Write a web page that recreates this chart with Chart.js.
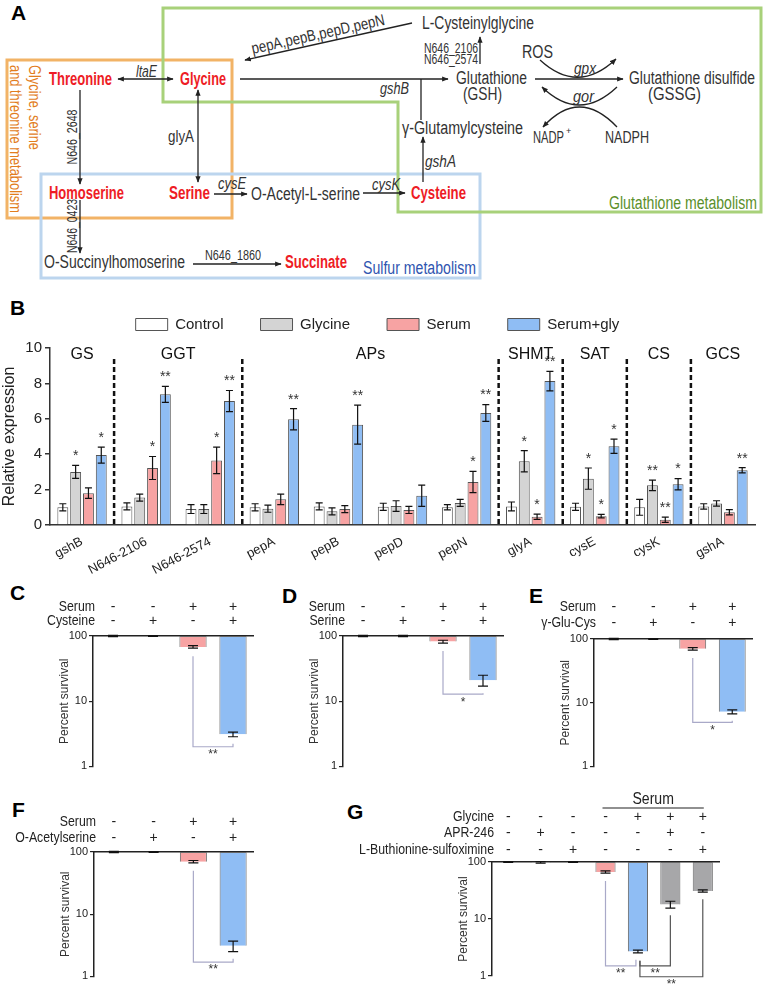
<!DOCTYPE html>
<html><head><meta charset="utf-8">
<script src="https://cdn.jsdelivr.net/npm/chart.js@4.4.1/dist/chart.umd.min.js"></script>
<style>
html,body{margin:0;padding:0;background:#fff;}
body{width:764px;height:987px;position:relative;overflow:hidden;font-family:'Liberation Sans',Arial,sans-serif;}
.cv{position:absolute;}
.letter{position:absolute;font-weight:bold;font-size:21px;line-height:1;color:#000;font-family:'Liberation Sans',Arial,sans-serif;}
</style></head><body>

<svg width="764" height="290" style="position:absolute;left:0;top:0" font-family="'Liberation Sans Narrow','Arial Narrow','Liberation Sans',Arial,sans-serif">
<defs><marker id="ah" viewBox="0 0 10 10" refX="9" refY="5" markerWidth="5" markerHeight="5" orient="auto-start-reverse"><path d="M0,1 L10,5 L0,9 z" fill="#222"/></marker></defs>
<rect x="7" y="60" width="225" height="158" fill="none" stroke="#f2b366" stroke-width="3"/>
<rect x="41" y="174" width="439" height="104" fill="none" stroke="#bcd5ee" stroke-width="3"/>
<polygon points="163,8 761,8 761,212 398,212 398,102 163,102" fill="none" stroke="#a8d17a" stroke-width="3"/>
<g stroke="#222" stroke-width="1.3" fill="none">
<line x1="118" y1="79" x2="173" y2="79" marker-start="url(#ah)" marker-end="url(#ah)"/>
<line x1="240" y1="79" x2="448" y2="79" marker-end="url(#ah)"/>
<line x1="421" y1="120" x2="421" y2="79"/>
<line x1="412" y1="23" x2="245" y2="60" marker-end="url(#ah)"/>
<line x1="480" y1="64" x2="480" y2="37" marker-end="url(#ah)"/>
<line x1="535" y1="79" x2="623" y2="79" marker-end="url(#ah)"/>
<path d="M540,60 Q578,95 616,59" marker-end="url(#ah)"/>
<path d="M617,87 Q579,123 542,87" marker-end="url(#ah)"/>
<path d="M617,127 Q579,87 543,127" marker-end="url(#ah)"/>
<line x1="423" y1="182" x2="423" y2="137" marker-end="url(#ah)"/>
<line x1="198" y1="90" x2="198" y2="182" marker-start="url(#ah)" marker-end="url(#ah)"/>
<line x1="80" y1="90" x2="80" y2="184" marker-end="url(#ah)"/>
<line x1="214" y1="194" x2="247" y2="194" marker-end="url(#ah)"/>
<line x1="363" y1="193" x2="405" y2="193" marker-end="url(#ah)"/>
<line x1="80" y1="200" x2="80" y2="253" marker-end="url(#ah)"/>
<line x1="193" y1="264" x2="281" y2="264" marker-end="url(#ah)"/>
</g>
<g font-size="18" fill="#333" dominant-baseline="central">
<text x="422" y="23" textLength="112" lengthAdjust="spacingAndGlyphs">L-Cysteinylglycine</text>
<text x="522" y="52" textLength="31" lengthAdjust="spacingAndGlyphs">ROS</text>
<text x="456" y="78" textLength="71" lengthAdjust="spacingAndGlyphs">Glutathione</text>
<text x="463" y="94" textLength="39" lengthAdjust="spacingAndGlyphs">(GSH)</text>
<text x="629" y="78" textLength="126" lengthAdjust="spacingAndGlyphs">Glutathione disulfide</text>
<text x="648" y="94" textLength="53" lengthAdjust="spacingAndGlyphs">(GSSG)</text>
<text x="402" y="128" textLength="121" lengthAdjust="spacingAndGlyphs">γ-Glutamylcysteine</text>
<text x="533" y="137" font-size="16" textLength="31" lengthAdjust="spacingAndGlyphs">NADP</text>
<text x="566" y="131" font-size="9" fill="#333">+</text>
<text x="605" y="137" font-size="16" textLength="44" lengthAdjust="spacingAndGlyphs">NADPH</text>
<text x="251" y="194" textLength="109" lengthAdjust="spacingAndGlyphs">O-Acetyl-L-serine</text>
<text x="44" y="262" textLength="141" lengthAdjust="spacingAndGlyphs">O-Succinylhomoserine</text>
<text x="168" y="136" font-size="16" textLength="26" lengthAdjust="spacingAndGlyphs">glyA</text>
</g>
<g font-size="16" fill="#333" font-style="italic" dominant-baseline="central">
<text x="136" y="71" textLength="21" lengthAdjust="spacingAndGlyphs">ltaE</text>
<text x="380" y="88" textLength="29" lengthAdjust="spacingAndGlyphs">gshB</text>
<text x="425" y="161" textLength="31" lengthAdjust="spacingAndGlyphs">gshA</text>
<text x="218" y="183" textLength="28" lengthAdjust="spacingAndGlyphs">cysE</text>
<text x="372" y="184" textLength="28" lengthAdjust="spacingAndGlyphs">cysK</text>
<text x="574" y="68" textLength="22" lengthAdjust="spacingAndGlyphs">gpx</text>
<text x="573" y="96" textLength="21" lengthAdjust="spacingAndGlyphs">gor</text>
<text transform="translate(318,34) rotate(-12.5)" font-style="normal" text-anchor="middle" textLength="136" lengthAdjust="spacingAndGlyphs">pepA,pepB,pepD,pepN</text>
</g>
<g font-size="14" fill="#333" dominant-baseline="central">
<text x="424" y="48" textLength="54" lengthAdjust="spacingAndGlyphs">N646_2106</text>
<text x="424" y="59" textLength="54" lengthAdjust="spacingAndGlyphs">N646_2574</text>
<text x="205" y="255" textLength="56" lengthAdjust="spacingAndGlyphs">N646_1860</text>
<text transform="translate(72,137) rotate(-90)" text-anchor="middle" textLength="55" lengthAdjust="spacingAndGlyphs">N646_2648</text>
<text transform="translate(72,226) rotate(-90)" text-anchor="middle" textLength="54" lengthAdjust="spacingAndGlyphs">N646_0423</text>
</g>
<g font-size="18" fill="#ee1c25" font-weight="bold" dominant-baseline="central">
<text x="49" y="79" textLength="63" lengthAdjust="spacingAndGlyphs">Threonine</text>
<text x="180" y="79" textLength="46" lengthAdjust="spacingAndGlyphs">Glycine</text>
<text x="49" y="193" textLength="75" lengthAdjust="spacingAndGlyphs">Homoserine</text>
<text x="169" y="193" textLength="41" lengthAdjust="spacingAndGlyphs">Serine</text>
<text x="411" y="193" textLength="55" lengthAdjust="spacingAndGlyphs">Cysteine</text>
<text x="285" y="262" textLength="62" lengthAdjust="spacingAndGlyphs">Succinate</text>
</g>
<g font-size="18" dominant-baseline="central">
<text x="609" y="203" fill="#5b8f2b" textLength="148" lengthAdjust="spacingAndGlyphs">Glutathione metabolism</text>
<text x="363" y="268" fill="#2f55b0" textLength="113" lengthAdjust="spacingAndGlyphs">Sulfur metabolism</text>
<text transform="translate(34,65) rotate(90)" fill="#e27d1e" font-size="17" textLength="85" lengthAdjust="spacingAndGlyphs">Glycine, serine</text>
<text transform="translate(15,65) rotate(90)" fill="#e27d1e" font-size="17" textLength="148" lengthAdjust="spacingAndGlyphs">and threonine metabolism</text>
</g>
</svg>

<div class="letter" style="left:11px;top:2px">A</div>
<div class="letter" style="left:10px;top:297px">B</div>
<div class="letter" style="left:10px;top:582px">C</div>
<div class="letter" style="left:282px;top:585px">D</div>
<div class="letter" style="left:529px;top:585px">E</div>
<div class="letter" style="left:12px;top:799px">F</div>
<div class="letter" style="left:347px;top:801px">G</div>

<canvas id="chartB" class="cv" width="764" height="302" style="left:0;top:280px"></canvas>
<canvas id="chartC" class="cv" width="262" height="205" style="left:0;top:570px"></canvas>
<canvas id="chartD" class="cv" width="262" height="205" style="left:250px;top:570px"></canvas>
<canvas id="chartE" class="cv" width="262" height="205" style="left:500px;top:570px"></canvas>
<canvas id="chartF" class="cv" width="262" height="200" style="left:0;top:785px"></canvas>
<canvas id="chartG" class="cv" width="514" height="200" style="left:250px;top:785px"></canvas>

<script>
// ---------------- Panel B data ----------------
const geneLabels = ['gshB','N646-2106','N646-2574','pepA','pepB','pepD','pepN','glyA','cysE','cysK','gshA'];
const seriesNames = ['Control','Glycine','Serum','Serum+gly'];
const controlMean  = [1.0, 1.05, 0.9, 1.0, 1.05, 1.03, 1.0, 1.05, 1.03, 1.0, 1.05];
const glycineMean  = [3.0, 1.55, 0.9, 0.92, 0.77, 1.07, 1.25, 3.6, 2.62, 2.24, 1.22];
const serumMean    = [1.8, 3.22, 3.65, 1.45, 0.9, 0.85, 2.43, 0.47, 0.5, 0.3, 0.72];
const serumGlyMean = [3.95, 7.38, 7.0, 5.97, 5.67, 1.65, 6.33, 8.13, 4.45, 2.3, 3.09];
const controlSD  = [0.2, 0.2, 0.25, 0.2, 0.2, 0.2, 0.15, 0.25, 0.2, 0.45, 0.15];
const glycineSD  = [0.37, 0.2, 0.25, 0.2, 0.2, 0.3, 0.2, 0.6, 0.6, 0.3, 0.15];
const serumSD    = [0.3, 0.65, 0.75, 0.3, 0.2, 0.2, 0.6, 0.15, 0.1, 0.15, 0.15];
const serumGlySD = [0.45, 0.45, 0.6, 0.6, 1.1, 0.6, 0.47, 0.55, 0.4, 0.32, 0.15];
const controlStars  = ['','','','','','','','','','',''];
const glycineStars  = ['*','','','','','','','*','*','**',''];
const serumStars    = ['','*','*','','','','*','*','*','**',''];
const serumGlyStars = ['*','**','**','**','**','','**','**','*','*','**'];
const groupNames = ['GS','GGT','APs','SHMT','SAT','CS','GCS'];
const groupFirst = [0, 1, 3, 7, 8, 9, 10];
const groupLast  = [0, 2, 6, 7, 8, 9, 10];

// ---------------- Panels C-G data ----------------
const cSerum = ['-','-','+','+'];
const cCysteine = ['-','+','-','+'];
const cSurvival = [100, 100, 68, 3.1];
const cSD = [2, 1.5, 3, 0.25];

const dSerum = ['-','-','+','+'];
const dSerine = ['-','+','-','+'];
const dSurvival = [100, 100, 82, 21];
const dSD = [2, 2, 4, 4];

const eSerum = ['-','-','+','+'];
const eGluCys = ['-','+','-','+'];
const eSurvival = [100, 100, 70, 7.2];
const eSD = [2, 1.5, 3, 0.5];

const fSerum = ['-','-','+','+'];
const fAcetylserine = ['-','+','-','+'];
const fSurvival = [100, 100, 70, 3.1];
const fSD = [2, 1.5, 3, 0.6];

const gGlycine = ['-','-','-','-','+','+','+'];
const gAPR = ['-','+','-','-','-','+','-'];
const gBSO = ['-','-','+','-','-','-','+'];
const gSurvival = [100, 98, 100, 67, 2.7, 18, 31];
const gSD = [1.5, 3, 1.5, 3, 0.15, 2.5, 1.5];

// ---------------- Styling ----------------
const FONT = "'Liberation Sans', Arial, sans-serif";
const NARROW = "'Liberation Sans Narrow', 'Arial Narrow', 'Liberation Sans', Arial, sans-serif";
Chart.defaults.font.family = FONT;
Chart.defaults.color = '#222';
Chart.defaults.animation = false;
const WHITE = '#ffffff', LGRAY = '#d4d4d4', PINK = '#f7a3a3', BLUE = '#8fbdf4', DGRAY = '#a7a7a9';

// ---------------- Panel B ----------------
const bMeans = [controlMean, glycineMean, serumMean, serumGlyMean];
const bSDs = [controlSD, glycineSD, serumSD, serumGlySD];
const bStars = [controlStars, glycineStars, serumStars, serumGlyStars];
const bColors = [WHITE, LGRAY, PINK, BLUE];

const bExtras = {
  id: 'bExtras',
  afterDatasetsDraw(chart) {
    const {ctx, chartArea: a, scales: {x, y}} = chart;
    ctx.save();
    bMeans.forEach((means, di) => {
      const meta = chart.getDatasetMeta(di);
      meta.data.forEach((bar, i) => {
        const m = means[i], s = bSDs[di][i];
        const yt = y.getPixelForValue(m + s), yb = y.getPixelForValue(Math.max(0, m - s));
        ctx.strokeStyle = '#111'; ctx.lineWidth = 1.2;
        ctx.beginPath();
        ctx.moveTo(bar.x, yt); ctx.lineTo(bar.x, yb);
        ctx.moveTo(bar.x - 3.5, yt); ctx.lineTo(bar.x + 3.5, yt);
        ctx.moveTo(bar.x - 3.5, yb); ctx.lineTo(bar.x + 3.5, yb);
        ctx.stroke();
        const st = bStars[di][i];
        if (st) {
          ctx.fillStyle = '#333'; ctx.font = '14px ' + FONT;
          ctx.textAlign = 'center'; ctx.textBaseline = 'middle';
          ctx.fillText(st, bar.x, yt - 9);
        }
      });
    });
    ctx.strokeStyle = '#111'; ctx.lineWidth = 2.5; ctx.setLineDash([5, 3]);
    groupLast.slice(0, -1).forEach(li => {
      const xp = (x.getPixelForValue(li) + x.getPixelForValue(li + 1)) / 2;
      ctx.beginPath(); ctx.moveTo(xp, a.top + 11); ctx.lineTo(xp, a.bottom); ctx.stroke();
    });
    ctx.setLineDash([]);
    ctx.fillStyle = '#111'; ctx.font = '16px ' + FONT; ctx.textAlign = 'center'; ctx.textBaseline = 'middle';
    groupNames.forEach((g, k) => {
      const xp = (x.getPixelForValue(groupFirst[k]) + x.getPixelForValue(groupLast[k])) / 2;
      ctx.fillText(g, xp, a.top + 7);
    });
    ctx.restore();
  }
};

new Chart(document.getElementById('chartB'), {
  type: 'bar',
  data: {
    labels: geneLabels,
    datasets: bMeans.map((m, i) => ({
      label: seriesNames[i], data: m, backgroundColor: bColors[i],
      borderColor: '#555', borderWidth: 1,
      categoryPercentage: 0.8, barPercentage: 0.85
    }))
  },
  options: {
    responsive: false, animation: false,
    layout: {padding: {left: 0, right: 9, top: 0, bottom: 0}},
    plugins: {
      legend: {display: true, position: 'top',
        labels: {boxWidth: 32, boxHeight: 12, padding: 37, color: '#222', font: {size: 15, family: FONT}}},
      title: {display: true, text: ' ', weight: 500, padding: {top: 0, bottom: 0}, font: {size: 5}},
      tooltip: {enabled: false}
    },
    scales: {
      x: {
        grid: {display: false, drawTicks: false},
        border: {color: '#333', width: 1.5},
        ticks: {minRotation: 28, maxRotation: 28, autoSkip: false, padding: 9, color: '#222', font: {size: 13, family: FONT}},
        afterFit(s) { s.height = 57; }
      },
      y: {
        min: 0, max: 10,
        ticks: {stepSize: 2, color: '#222', font: {size: 15, family: FONT}, padding: 3},
        grid: {drawOnChartArea: false, tickLength: 5, color: '#333', lineWidth: 1.5},
        border: {color: '#333', width: 1.5},
        title: {display: true, text: 'Relative expression', color: '#222', font: {size: 16, family: FONT}, padding: {top: 0, bottom: 2}},
        afterFit(s) { s.width = 50; }
      }
    }
  },
  plugins: [bExtras]
});

// ---------------- Panels C-G ----------------
function survivalChart(id, rowNames, rowSigns, values, sds, colors, brackets, lay, header) {
  const labels = values.map((_, i) => rowSigns.map(r => r[i]));
  const extras = {
    id: 'surv_' + id,
    afterDatasetsDraw(chart) {
      const {ctx, chartArea: a, scales: {x, y}} = chart;
      const meta = chart.getDatasetMeta(0);
      ctx.save();
      ctx.strokeStyle = '#111'; ctx.lineWidth = 1.2;
      meta.data.forEach((bar, i) => {
        const v = values[i], s = sds[i];
        const yt = y.getPixelForValue(v + s), yb = y.getPixelForValue(v - s);
        ctx.beginPath();
        ctx.moveTo(bar.x, yt); ctx.lineTo(bar.x, yb);
        ctx.moveTo(bar.x - 5, yt); ctx.lineTo(bar.x + 5, yt);
        ctx.moveTo(bar.x - 5, yb); ctx.lineTo(bar.x + 5, yb);
        ctx.stroke();
      });
      // row names (condensed like the original narrow typeface)
      ctx.fillStyle = '#222'; ctx.font = '14px ' + FONT;
      ctx.textAlign = 'right'; ctx.textBaseline = 'middle';
      rowNames.forEach((nm, j) => {
        const yy = a.top - lay.pad - (rowNames.length - j - 0.5) * lay.lh;
        ctx.save(); ctx.translate(a.left + 2, yy); ctx.scale(0.88, 1);
        ctx.fillText(nm, 0, 0); ctx.restore();
      });
      brackets.forEach(b => {
        const x1 = x.getPixelForValue(b.from) + (b.dx1 || 0), x2 = x.getPixelForValue(b.to) + (b.dx2 || 0);
        const y1 = y.getPixelForValue(values[b.from] - sds[b.from]) + 8;
        const y2 = y.getPixelForValue(values[b.to] - sds[b.to]) + 7;
        const yl = y.getPixelForValue(b.at);
        ctx.strokeStyle = b.color; ctx.lineWidth = 1.2;
        ctx.beginPath(); ctx.moveTo(x1, y1); ctx.lineTo(x1, yl); ctx.lineTo(x2, yl); ctx.lineTo(x2, y2); ctx.stroke();
        ctx.fillStyle = '#333'; ctx.font = '12px ' + FONT; ctx.textAlign = 'center'; ctx.textBaseline = 'middle';
        ctx.fillText(b.label, (x1 + x2) / 2, yl + 8);
      });
      if (header) {
        const xa = x.getPixelForValue(header.from) - 3, xb = x.getPixelForValue(header.to) + 1;
        ctx.strokeStyle = '#222'; ctx.lineWidth = 1.2;
        ctx.beginPath(); ctx.moveTo(xa, a.top - header.lineOff); ctx.lineTo(xb, a.top - header.lineOff); ctx.stroke();
        ctx.fillStyle = '#222'; ctx.font = '16px ' + FONT; ctx.textAlign = 'center'; ctx.textBaseline = 'middle';
        ctx.save(); ctx.translate((xa + xb) / 2, a.top - header.lineOff - 8); ctx.scale(0.88, 1);
        ctx.fillText(header.text, 0, 0); ctx.restore();
      }
      ctx.restore();
    }
  };
  return new Chart(document.getElementById(id), {
    type: 'bar',
    data: {
      labels: labels,
      datasets: [{
        data: values.map(v => [v, 100]),
        backgroundColor: colors, borderColor: '#666', borderWidth: 1,
        categoryPercentage: 1, barPercentage: lay.barPct
      }]
    },
    options: {
      responsive: false, animation: false,
      layout: {padding: {left: lay.padL, right: lay.padR, top: 0, bottom: lay.padB}},
      plugins: {legend: {display: false}, tooltip: {enabled: false}},
      scales: {
        x: {
          type: 'category', position: 'top', offset: true,
          grid: {display: false, drawTicks: false},
          border: {display: true, color: '#222', width: 1.5},
          ticks: {autoSkip: false, maxRotation: 0, padding: lay.pad, color: '#222',
                  font: {size: 14, family: NARROW, lineHeight: lay.lh / 14}},
          afterFit(s) { s.height = lay.xH; }
        },
        y: {
          type: 'logarithmic', min: 1, max: 100,
          afterBuildTicks(s) { s.ticks = [{value: 1}, {value: 10}, {value: 100}]; },
          ticks: {color: '#222', font: {size: 11, family: NARROW}, padding: 2, callback: v => String(v)},
          grid: {drawOnChartArea: false, tickLength: 4, color: '#222', lineWidth: 1.2},
          border: {color: '#222', width: 1.5},
          title: {display: true, text: 'Percent survival', color: '#333', font: {size: 12, family: NARROW}, padding: {top: 0, bottom: 0}},
          afterFit(s) { s.width = 36; }
        }
      }
    },
    plugins: [extras]
  });
}

const LAV = '#a9a9c8';
const colors4 = [WHITE, WHITE, PINK, BLUE];

survivalChart('chartC', ['Serum', 'Cysteine'], [cSerum, cCysteine], cSurvival, cSD, colors4,
  [{from: 2, to: 3, at: 2.0, label: '**', color: LAV}],
  {padL: 57, padR: 9, padB: 8, xH: 66, lh: 14, pad: 8, barPct: 0.68});

survivalChart('chartD', ['Serum', 'Serine'], [dSerum, dSerine], dSurvival, dSD, colors4,
  [{from: 2, to: 3, at: 12.8, label: '*', color: LAV}],
  {padL: 57, padR: 9, padB: 8, xH: 66, lh: 14, pad: 8, barPct: 0.68});

survivalChart('chartE', ['Serum', 'γ-Glu-Cys'], [eSerum, eGluCys], eSurvival, eSD, colors4,
  [{from: 2, to: 3, at: 4.9, label: '*', color: LAV}],
  {padL: 58, padR: 10, padB: 5, xH: 69, lh: 16, pad: 8, barPct: 0.68});

survivalChart('chartF', ['Serum', 'O-Acetylserine'], [fSerum, fAcetylserine], fSurvival, fSD, colors4,
  [{from: 2, to: 3, at: 1.7, label: '**', color: LAV}],
  {padL: 58, padR: 9, padB: 4, xH: 67, lh: 16, pad: 6, barPct: 0.68});

survivalChart('chartG', ['Glycine', 'APR-246', 'L-Buthionine-sulfoximine'], [gGlycine, gAPR, gBSO], gSurvival, gSD,
  [WHITE, WHITE, WHITE, PINK, BLUE, DGRAY, DGRAY],
  [{from: 3, to: 4, at: 1.5, label: '**', color: LAV, dx2: -2},
   {from: 4, to: 5, at: 1.5, label: '**', color: '#555', dx1: 2},
   {from: 4, to: 6, at: 0.97, label: '**', color: '#555', dx1: 2}],
  {padL: 206, padR: 45, padB: 9, xH: 77, lh: 16.5, pad: 3.75, barPct: 0.62},
  {from: 3, to: 6, text: 'Serum', lineOff: 54});
</script>
</body></html>
